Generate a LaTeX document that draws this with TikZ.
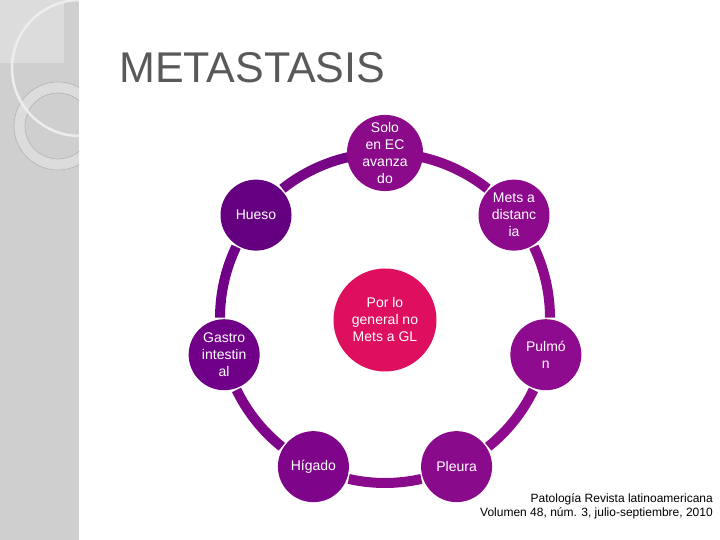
\documentclass[tikz,border=0pt]{standalone}
\usepackage{fontspec}
\setmainfont{Liberation Sans}
\usepackage{tikz}
\usetikzlibrary{calc, patterns}
\usepackage{xcolor}
\definecolor{titlegray}{HTML}{595959}
\definecolor{stripgray}{HTML}{CFCFCF}
\definecolor{striplight}{HTML}{DCDCDC}
\definecolor{ringline}{HTML}{B2B2B2}
\definecolor{hubpink}{HTML}{DE0F5E}
\definecolor{mvA}{HTML}{8A0A8A}
\definecolor{mvB}{HTML}{8D0A8D}
\definecolor{mvC}{HTML}{8E0A8E}
\definecolor{mvD}{HTML}{8A0A8C}
\definecolor{mvE}{HTML}{7E0589}
\definecolor{mvF}{HTML}{700088}
\definecolor{mvG}{HTML}{64007F}
\definecolor{mvH}{HTML}{770686}

\begin{document}
\begin{tikzpicture}[x=1pt, y=1pt,
  outer/.style={circle, minimum size=71pt, inner sep=0pt, text=white,
    align=center, font=\fontsize{14}{17}\selectfont},
  hub/.style={circle, minimum size=103pt, inner sep=0pt, text=white,
    fill=hubpink, align=center, font=\fontsize{14}{17}\selectfont},
  ringarc/.style={line width=10pt}
]
  \useasboundingbox (0,0) rectangle (720,540);

  % Side strip
  \begin{scope}
    \clip (0,0) rectangle (79,540);
    \fill[stripgray] (0,0) rectangle (79,540);
    \fill[striplight] (0,477) rectangle (64,540);
    \fill[striplight, even odd rule] (58,414) circle[radius=44pt]
      (58,414) circle[radius=33pt];
    \draw[ringline, line width=0.6pt] (58,414) circle[radius=44pt];
    \draw[ringline, line width=0.6pt] (58,414) circle[radius=33pt];
    \draw[white!93!black, line width=2.5pt] (80,472) circle[radius=68pt];
  \end{scope}

  % Title
  \node[anchor=base west, inner sep=0pt, text=titlegray,
    font=\fontsize{43}{50}\selectfont] (title) at (119,457) {METASTASIS};

  % Cycle
  \coordinate (ring) at (385,222);
  \foreach \k/\col in {0/mvA, 1/mvB, 2/mvC, 3/mvD, 4/mvE, 5/mvF, 6/mvH} {
    \pgfmathsetmacro\a{90-\k*360/7}
    \draw[ringarc, \col] ($(ring)+(\a-13:165)$)
      arc[start angle=\a-13, end angle=\a-360/7+13, radius=165pt];
  }

  \node[outer, fill=mvA] (solo) at ($(ring)+(90:165)$)
    {Solo\\en EC\\avanza\\do};
  \node[outer, fill=mvB] (mets) at ($(ring)+(90-360/7:165)$)
    {Mets a\\distanc\\ia};
  \node[outer, fill=mvC] (pulmon) at ($(ring)+(90-2*360/7:165)$)
    {Pulmó\\n};
  \node[outer, fill=mvD] (pleura) at ($(ring)+(90-3*360/7:165)$)
    {Pleura};
  \node[outer, fill=mvE] (higado) at ($(ring)+(90-4*360/7:165)$)
    {Hígado};
  \node[outer, fill=mvF] (gastro) at ($(ring)+(90-5*360/7:165)$)
    {Gastro\\intestin\\al};
  \node[outer, fill=mvG] (hueso) at ($(ring)+(90-6*360/7:165)$)
    {Hueso};

  % Centre
  \node[hub] (general) at ($(ring)+(0,-2)$) {Por lo\\general no\\Mets a GL};

  % Source
  \node[anchor=base east, inner sep=0pt, align=right,
    font=\fontsize{12}{14}\selectfont] (source) at (713,23)
    {Patología Revista latinoamericana\\
     Volumen 48, núm. 3, julio-septiembre, 2010};
\end{tikzpicture}
\end{document}
